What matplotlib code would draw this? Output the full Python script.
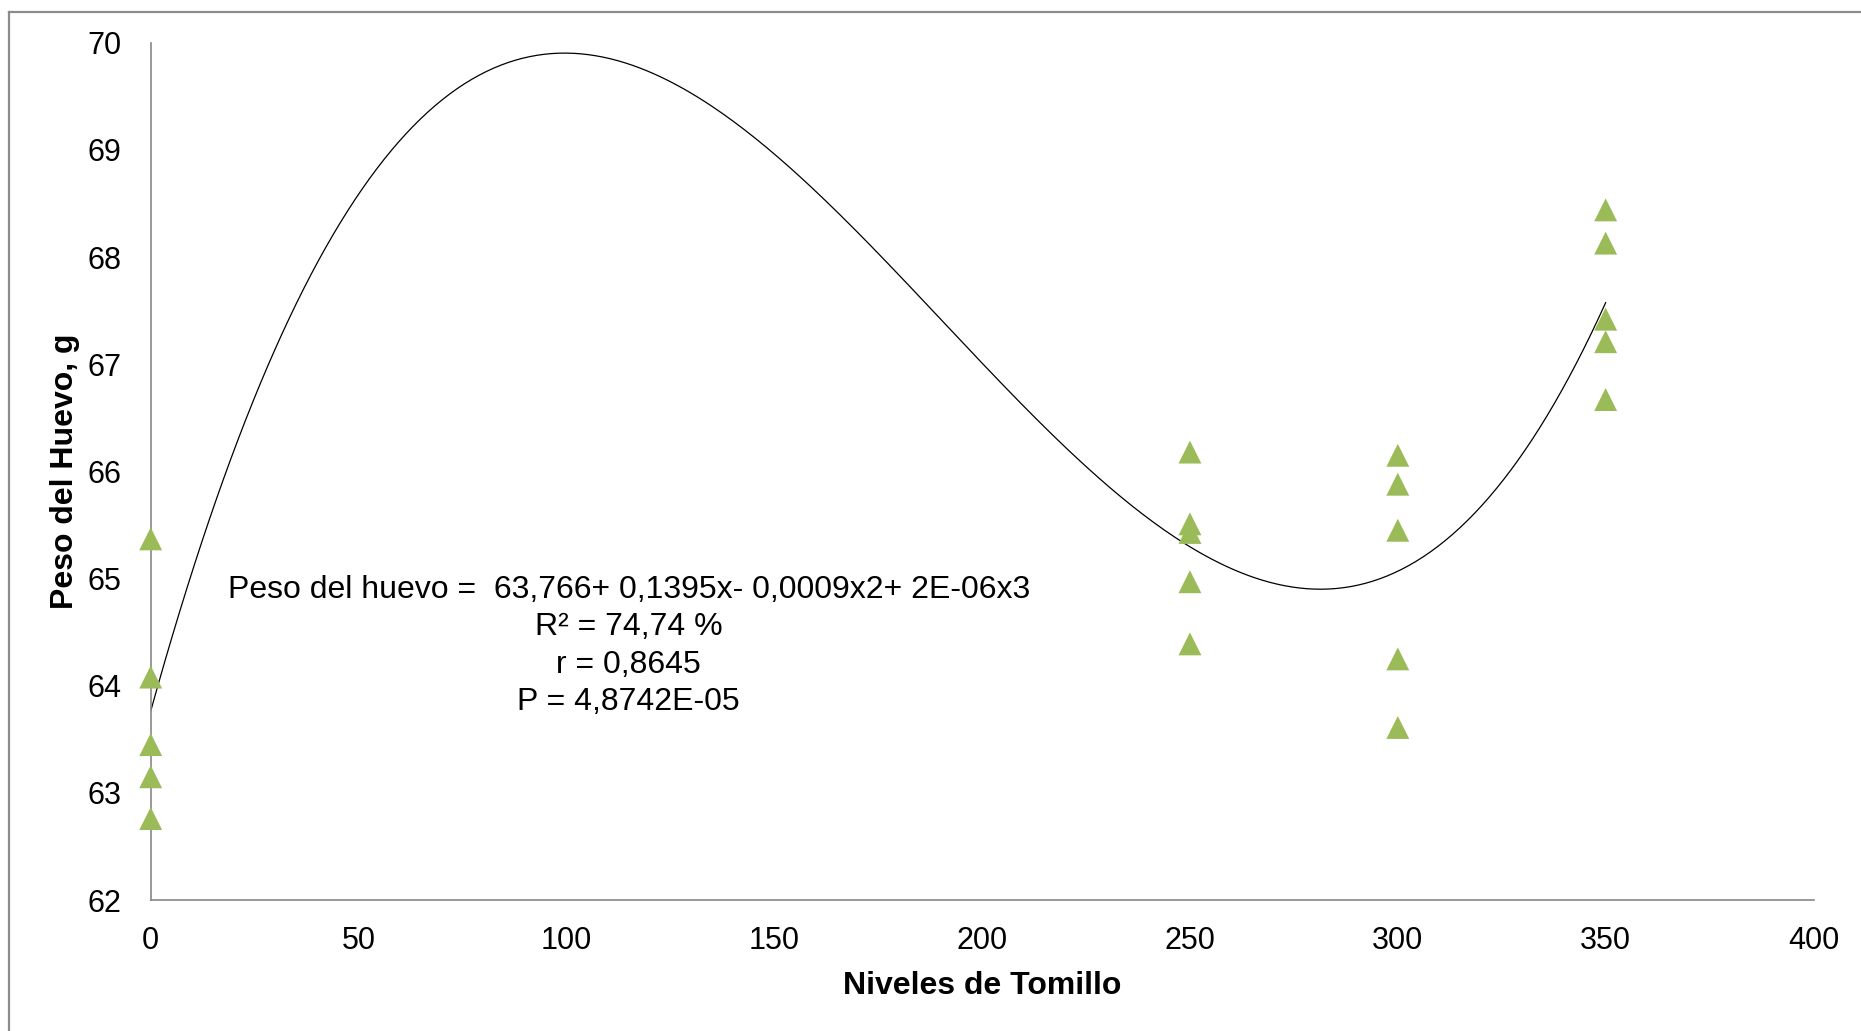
import matplotlib
matplotlib.use("Agg")
import matplotlib.pyplot as plt
from matplotlib.lines import Line2D
import numpy as np

plt.rcParams['font.family'] = ['Liberation Sans', 'DejaVu Sans']

# Niveles de tomillo (x) y peso del huevo (g)
niveles = [0, 0, 0, 0, 0,
           250, 250, 250, 250, 250,
           300, 300, 300, 300, 300,
           350, 350, 350, 350, 350]
peso = [65.37, 64.08, 63.45, 63.15, 62.76,
        66.18, 65.51, 65.43, 64.97, 64.39,
        66.15, 65.88, 65.45, 64.25, 63.61,
        68.44, 68.13, 67.42, 67.21, 66.67]

x_ticks = [0, 50, 100, 150, 200, 250, 300, 350, 400]
y_ticks = [62, 63, 64, 65, 66, 67, 68, 69, 70]

ecuacion = ("Peso del huevo =  63,766+ 0,1395x- 0,0009x2+ 2E-06x3\n"
            "R² = 74,74 %\nr = 0,8645\nP = 4,8742E-05")

fig = plt.figure(figsize=(18.61, 10.31), dpi=100)
ax = fig.add_axes([150.7 / 1861, 1 - 900 / 1031, (1813.5 - 150.7) / 1861, (900 - 42.7) / 1031])

# cubic trendline (same as Excel's polynomial order 3)
coef = np.polyfit(niveles, peso, 3)
xs = np.linspace(0, 350, 400)
ax.plot(xs, np.polyval(coef, xs), color='black', lw=0.9, zorder=2)

ax.scatter(niveles, peso, marker='^', s=16.5 ** 2, color='#9BBB59',
           edgecolors='none', zorder=3, clip_on=False)

ax.set_xlim(0, 400)
ax.set_ylim(62, 70)
ax.set_xticks(x_ticks)
ax.set_yticks(y_ticks)
ax.tick_params(axis='both', length=0, labelsize=22)
ax.tick_params(axis='x', pad=19)
ax.tick_params(axis='y', pad=21)

for s in ['top', 'right']:
    ax.spines[s].set_visible(False)
for s in ['left', 'bottom']:
    ax.spines[s].set_color('#888888')
    ax.spines[s].set_linewidth(1.2)

ax.set_xlabel('Niveles de Tomillo', fontsize=23, fontweight='bold', labelpad=10.5)
ax.set_ylabel('Peso del Huevo, g', fontsize=23, fontweight='bold', labelpad=5)

ax.text(115, 64.37, ecuacion, ha='center', va='center', fontsize=23,
        linespacing=1.32, multialignment='center')

# outer frame (only top and left edges visible)
fig.add_artist(Line2D([9 / 1861, 1], [1 - 12 / 1031, 1 - 12 / 1031], color='#8c8c8c', lw=1.6))
fig.add_artist(Line2D([9 / 1861, 9 / 1861], [0, 1 - 12 / 1031], color='#8c8c8c', lw=1.6))

fig.savefig('out.png', dpi=100)
